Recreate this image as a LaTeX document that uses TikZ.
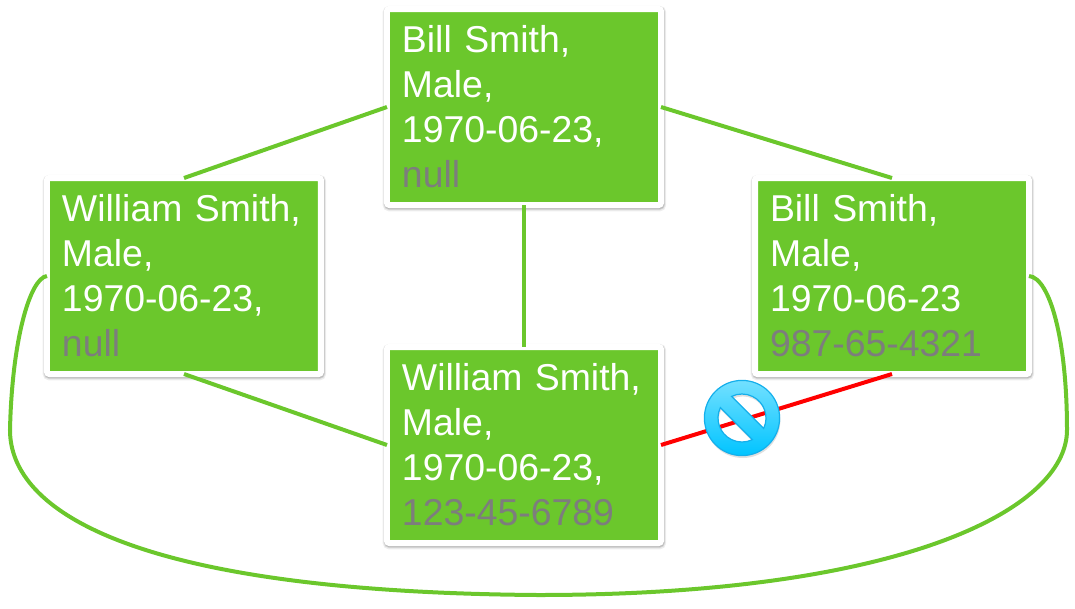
\documentclass[tikz,border=0pt]{standalone}
\usepackage{xcolor}
\usepackage{fontspec}
\setmainfont{Liberation Sans}
\usetikzlibrary{shapes,arrows.meta,positioning,shadows}
\definecolor{recgreen}{RGB}{107,199,44}
\definecolor{recgrey}{RGB}{125,125,125}
\definecolor{stopblue}{RGB}{0,196,255}
\definecolor{stoplight}{RGB}{115,224,255}
\definecolor{stopedge}{RGB}{20,175,235}

\begin{document}
\begin{tikzpicture}[
    recbox/.style={rectangle, draw=white, fill=recgreen, line width=.15cm, rounded corners=.06cm, outer sep=0pt,
        minimum width=6.85cm, minimum height=4.9cm, inner xsep=.375cm, inner ysep=0pt, text width=6.1cm, align=left,
        text=white, font=\fontsize{26.6}{32}\selectfont,
        drop shadow={draw=black, line width=.24cm, opacity=.07, shadow xshift=.01cm, shadow yshift=-.04cm},
        drop shadow={draw=black, line width=.19cm, opacity=.1, shadow xshift=.01cm, shadow yshift=-.03cm},
        drop shadow={draw=black, opacity=.12, shadow xshift=.01cm, shadow yshift=-.03cm}},
    link/.style={line width=.1cm, recgreen},
    clash/.style={line width=.1cm, red}
]
\useasboundingbox (-13.1,2.675) rectangle (13.775,-12.525);

\node[recbox] (top) {Bill Smith,\\Male,\\1970-06-23,\\\textcolor{recgrey}{null}};
\node[recbox, below=3.55cm of top] (bottom) {William Smith,\\Male,\\1970-06-23,\\\textcolor{recgrey}{123-45-6789}};
\node[recbox, left=1.65cm of top, yshift=-4.225cm] (leftrec) {William Smith,\\Male,\\1970-06-23,\\\textcolor{recgrey}{null}};
\node[recbox, right=2.35cm of top, yshift=-4.225cm] (rightrec) {Bill Smith,\\Male,\\1970-06-23\\\textcolor{recgrey}{987-65-4321}};

\coordinate (stop) at (5.45,-7.775);

\draw[link] (top.west) -- (leftrec.north);
\draw[link] (top.east) -- (rightrec.north);
\draw[link] (top.south) -- (bottom.north);
\draw[link] (leftrec.south) -- (bottom.west);
\draw[clash] (bottom.east) -- (rightrec.south);
\draw[link] (leftrec.west) .. controls (-12.35,-4.275) and (-12.8,-5.825) .. (-12.85,-8.075)
    .. controls (-12.85,-10.075) and (-9.85,-12.125) .. (.35,-12.2)
    .. controls (9.4,-12.2) and (13.575,-10.075) .. (13.575,-8.075)
    .. controls (13.575,-5.825) and (13.15,-4.275) .. (rightrec.east);

% forbidden sign on the red link
\path[draw=stopedge, line width=.03cm, top color=stoplight, bottom color=stopblue, even odd rule,
      drop shadow={even odd rule, opacity=.25, shadow xshift=.02cm, shadow yshift=-.06cm}]
    (stop) circle (.94cm)
    ([shift={(-25.5:.6cm)}]stop) arc[start angle=-25.5, end angle=115.5, radius=.6cm] -- cycle
    ([shift={(154.5:.6cm)}]stop) arc[start angle=154.5, end angle=295.5, radius=.6cm] -- cycle;
\end{tikzpicture}
\end{document}
